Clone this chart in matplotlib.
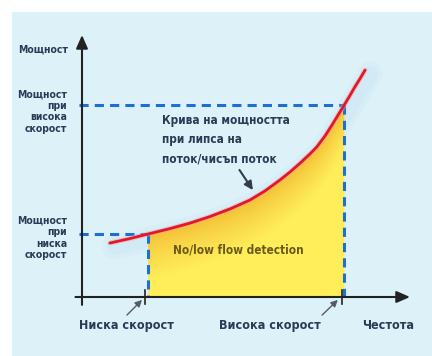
import numpy as np
import matplotlib.pyplot as plt
from matplotlib.patches import Rectangle, Polygon

# Power curve for no / low flow (frequency %, power %)
freq = [8.5, 14.6, 20, 26.8, 32.9, 39, 45.1, 51.2, 55.8, 60.4, 63.4, 66.5, 69.5,
        71.6, 74.1, 76.2, 78, 80, 81.4, 83.2, 84.8, 86.3]
power = [20.6, 22.3, 24, 26.1, 28.2, 30.7, 33.6, 37, 40.5, 44.7, 47.7, 51.1, 54.6,
         57.3, 61.5, 65.6, 69.3, 73.4, 76.3, 80.2, 83.4, 86.6]

low_speed, high_speed = 20, 80
low_power, high_power = 24, 73.4

y_labels = ["Мощност", "Мощност\nпри\nвисока\nскорост", "Мощност\nпри\nниска\nскорост"]
x_labels = ["Ниска скорост", "Висока скорост", "Честота"]
curve_label = "Крива на мощността\nпри липса на\nпоток/чисъп поток"
area_label = "No/low flow detection"

txt = "#2b3a55"
font = dict(family=["Liberation Sans Narrow", "DejaVu Sans"], fontweight="bold",
            fontstretch="condensed", color=txt)

fig = plt.figure(figsize=(4.32, 3.56), dpi=100)
fig.patch.set_facecolor("white")
fig.patches.append(Rectangle((12 / 432, 0), 1, 1 - 12 / 356, transform=fig.transFigure,
                             facecolor="#ddf1f9", edgecolor="none", zorder=-10))

ax = fig.add_axes([82 / 432, 59 / 356, 328 / 432, 262 / 356])
ax.set_xlim(0, 100)
ax.set_ylim(0, 100)
ax.axis("off")
ax.patch.set_alpha(0)

fx = np.array(freq, dtype=float)
fy = np.array(power, dtype=float)

# faint blue shadow along the curve
for lw, a in [(18, 0.06), (11, 0.08)]:
    ax.plot(fx + 1.5, fy - 1.5, color="#8cc0e0", lw=lw, alpha=a, zorder=0.5,
            solid_capstyle="round")

# yellow area under the curve between the two speeds
sel = (fx >= low_speed) & (fx <= high_speed)
poly = [(low_speed, 0)] + list(zip(fx[sel], fy[sel])) + [(high_speed, 0)]
clip = Polygon(poly, closed=True, facecolor="none", edgecolor="none")
ax.add_patch(clip)

gx, gy = np.meshgrid(np.linspace(low_speed, high_speed, 200), np.linspace(0, 80, 200))
dist = np.clip((np.interp(gx, fx, fy) - gy) / 18.0, 0, 1) ** 0.7
c_edge = np.array([0.95, 0.74, 0.20])
c_mid = np.array([1.0, 0.93, 0.35])
img = c_edge * (1 - dist[..., None]) + c_mid * dist[..., None]
im = ax.imshow(img, extent=[low_speed, high_speed, 0, 80], origin="lower",
               aspect="auto", zorder=1)
im.set_clip_path(clip)

# dashed guide lines
dash = dict(color="#1d6fd2", lw=2.2, dashes=(3, 2), zorder=2, clip_on=False)
ax.plot([-1, low_speed], [low_power, low_power], **dash)
ax.plot([low_speed, low_speed], [low_power, 0], **dash)
ax.plot([-1, high_speed], [high_power, high_power], **dash)
ax.plot([high_speed, high_speed], [high_power, 0], **dash)

# power curve
ax.plot(freq, power, color="#f4a0a8", lw=3.6, alpha=0.5, zorder=3, solid_capstyle="round")
ax.plot(freq, power, color="#e01828", lw=2.0, zorder=4, solid_capstyle="round")

# axes with arrow heads
ax.annotate("", xy=(0, 100), xytext=(0, -3), annotation_clip=False,
            arrowprops=dict(arrowstyle="-|>,head_length=0.8,head_width=0.35",
                            color="#222222", lw=1.5, shrinkA=0, shrinkB=0), zorder=5)
ax.annotate("", xy=(100, 0), xytext=(-2, 0), annotation_clip=False,
            arrowprops=dict(arrowstyle="-|>,head_length=0.8,head_width=0.35",
                            color="#222222", lw=1.5, shrinkA=0, shrinkB=0), zorder=5)
for xv in (low_speed, high_speed):
    ax.plot([xv - 0.8, xv - 0.8], [-2.5, 2.5], color="#222222", lw=1.2, zorder=5, clip_on=False)

# text labels
ax.text(-4.3, 94.3, y_labels[0], ha="right", va="center", fontsize=7.5, **font)
ax.text(-4.6, 70.8, y_labels[1], ha="right", va="center", fontsize=7.5,
        linespacing=1.2, **font)
ax.text(-4.6, 22.5, y_labels[2], ha="right", va="center", fontsize=7.5,
        linespacing=1.2, **font)

ax.text(24.4, 60, curve_label, ha="left", va="center", fontsize=8.5,
        linespacing=1.6, **font)
ax.annotate("", xy=(52.1, 40.8), xytext=(48.0, 48.5),
            arrowprops=dict(arrowstyle="-|>,head_length=0.5,head_width=0.25",
                            color="#333c4c", lw=1.5, shrinkA=0, shrinkB=0))
ax.text(27.7, 18, area_label, ha="left", va="center", fontsize=8.5,
        family=font["family"], fontweight="bold", fontstretch="condensed", color="#6a5a1c")

for xc, lab in zip([13.4, 57.3, 93.3], x_labels):
    ax.text(xc, -10.7, lab, ha="center", va="center", fontsize=9, **font)
for x0, x1 in [(13.7, 18.3), (73.2, 78.0)]:
    ax.annotate("", xy=(x1, -1.1), xytext=(x0, -6.9), annotation_clip=False,
                arrowprops=dict(arrowstyle="-|>,head_length=0.4,head_width=0.2",
                                color="#555c66", lw=1.0, shrinkA=0, shrinkB=0))

fig.savefig("out.png", dpi=100)
